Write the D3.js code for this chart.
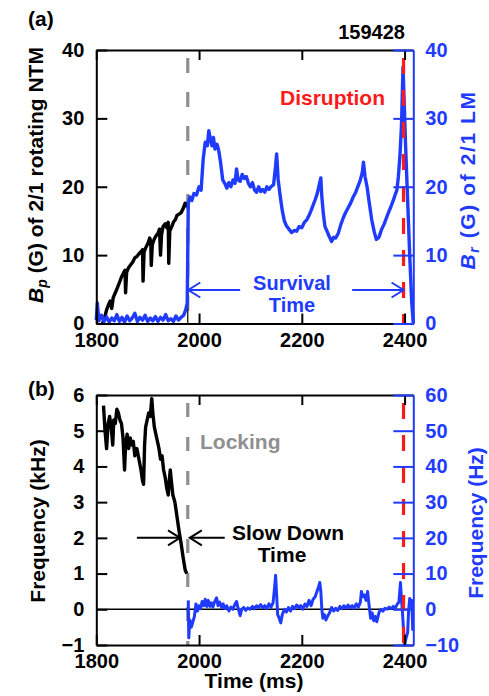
<!DOCTYPE html>
<html>
<head>
<meta charset="utf-8">
<script src="https://cdn.jsdelivr.net/npm/d3@7"></script>
<style>
  body { margin: 0; background: #fff; }
  text { font-family: "Liberation Sans", Arial, sans-serif; font-weight: bold; }
</style>
</head>
<body>
<script>
// ---- data ----
const timeTicks = [1800, 2000, 2200, 2400];
const ampTicks = [0, 10, 20, 30, 40];
const khzTicks = [-1, 0, 1, 2, 3, 4, 5, 6];
const hzTicks = [-10, 0, 10, 20, 30, 40, 50, 60];
const timeDomain = [1800, 2417];

const lockTime = 1978;
const disruptTime = 2398;
const shotNumber = "159428";

// (a) rotating NTM amplitude, black (G)
const ntmTime = [1812, 1816, 1820, 1824, 1827, 1830, 1833, 1837, 1841, 1845, 1849, 1853, 1856, 1857, 1859,
  1863, 1867, 1871, 1875, 1879, 1883, 1887, 1890, 1891, 1893, 1897, 1901, 1904, 1906, 1907, 1909, 1912,
  1916, 1920, 1923, 1925, 1927, 1930, 1934, 1937, 1940, 1941, 1943, 1947, 1950, 1954, 1957, 1961, 1965,
  1969, 1973, 1976];
const ntmAmp = [0.0, 0.8, 2.0, 2.8, 3.3, 2.2, 3.8, 4.5, 5.2, 6.0, 6.8, 7.4, 7.8, 4.5, 7.5,
  8.2, 8.6, 9.0, 9.6, 9.8, 10.2, 10.5, 10.8, 6.2, 10.5, 11.2, 11.8, 12.5, 12.0, 8.5, 11.5, 12.2,
  12.8, 13.2, 13.8, 10.0, 13.0, 14.2, 14.6, 14.0, 14.8, 8.8, 13.5, 14.2, 14.8, 15.2, 15.8, 16.0, 16.2,
  16.8, 17.6, 17.0];

// (a) locked mode amplitude, blue (G)
const lmTime = [1800, 1802, 1805, 1810, 1815, 1820, 1825, 1830, 1835, 1840, 1845, 1850, 1855, 1860, 1865,
  1870, 1875, 1880, 1885, 1890, 1895, 1900, 1905, 1910, 1915, 1920, 1925, 1930, 1935, 1940, 1945, 1950,
  1955, 1960, 1965, 1970, 1974, 1977, 1979, 1982, 1986, 1990, 1995, 2000, 2004, 2008, 2012, 2016, 2019,
  2022, 2025, 2028, 2031, 2035, 2038, 2042, 2046, 2050, 2054, 2058, 2062, 2066, 2070, 2073, 2076, 2080,
  2084, 2088, 2092, 2096, 2100, 2104, 2108, 2112, 2116, 2120, 2124, 2128, 2132, 2136, 2140, 2145, 2149,
  2151, 2154, 2158, 2162, 2166, 2170, 2175, 2180, 2185, 2190, 2195, 2200, 2205, 2210, 2214, 2218, 2222,
  2226, 2230, 2234, 2237, 2239, 2242, 2245, 2249, 2253, 2258, 2262, 2266, 2271, 2276, 2281, 2285, 2290,
  2295, 2300, 2305, 2310, 2314, 2318, 2320, 2323, 2327, 2331, 2336, 2341, 2345, 2350, 2355, 2360, 2365,
  2369, 2373, 2378, 2382, 2385, 2388, 2391, 2394, 2397, 2399, 2402, 2406, 2410, 2414, 2417];
const lmAmp = [0.5, 3.0, 0.4, 1.2, 0.3, 1.0, 0.2, 0.8, 0.4, 1.3, 0.3, 0.9, 0.2, 1.1, 0.4,
  0.8, 1.5, 0.3, 0.9, 0.5, 1.2, 0.3, 0.8, 0.4, 1.0, 0.3, 0.9, 0.5, 1.3, 0.4, 0.7, 0.3,
  1.1, 0.5, 0.9, 1.2, 2.0, 3.0, 17.5, 18.5, 18.0, 19.0, 18.8, 20.0, 19.5, 24.0, 26.5, 26.0, 28.2,
  27.0, 26.0, 27.2, 25.5, 26.2, 25.4, 23.5, 21.0, 20.5, 19.8, 20.6, 20.0, 21.0, 20.5, 22.6, 21.0, 20.8,
  21.8, 21.2, 21.5, 20.5, 20.0, 20.6, 19.5, 19.2, 20.0, 19.3, 19.6, 19.2, 20.0, 19.6, 20.0, 20.3, 23.0,
  24.8, 21.0, 18.6, 16.5, 15.0, 14.3, 13.8, 13.3, 13.6, 13.5, 14.2, 14.0, 14.8, 15.2, 15.8, 16.5, 17.3,
  18.1, 19.0, 20.3, 21.3, 18.5, 16.0, 14.2, 13.5, 12.8, 12.0, 12.6, 12.5, 13.2, 14.5, 15.5, 16.2, 16.9,
  17.6, 18.5, 19.2, 20.2, 21.0, 22.2, 23.6, 21.5, 20.0, 17.8, 15.2, 13.4, 12.3, 12.6, 13.7, 14.5, 15.5,
  16.3, 17.0, 18.0, 18.9, 19.5, 21.5, 24.5, 29.0, 37.5, 33.0, 26.0, 18.0, 10.0, 3.0, 0.0];

// (b) rotating mode frequency, black (kHz)
const rotTime = [1814, 1817, 1820, 1823, 1826, 1829, 1832, 1834, 1837, 1840, 1843, 1846, 1849, 1852, 1855,
  1857, 1860, 1863, 1866, 1869, 1872, 1875, 1879, 1883, 1887, 1890, 1892, 1894, 1896, 1899, 1902, 1905,
  1908, 1910, 1913, 1916, 1919, 1922, 1925, 1928, 1931, 1934, 1937, 1940, 1942, 1944, 1946, 1949, 1953,
  1957, 1961, 1965, 1969, 1973, 1976];
const rotKHz = [5.7, 5.0, 4.5, 5.2, 5.4, 5.1, 4.6, 5.3, 5.2, 5.6, 5.5, 5.3, 5.2, 4.8, 3.9,
  4.6, 4.9, 4.5, 4.8, 4.6, 4.7, 4.3, 4.5, 4.2, 3.9, 3.6, 3.5, 4.6, 5.1, 5.3, 5.5, 5.4,
  5.9, 5.5, 5.1, 4.9, 4.7, 4.5, 4.2, 4.3, 3.9, 3.7, 3.4, 3.2, 3.6, 3.9, 3.6, 3.2, 3.0,
  2.6, 2.2, 1.85, 1.45, 1.1, 1.0];

// (b) locked mode frequency, blue (Hz)
const lockTimeHz = [1979, 1980, 1982, 1985, 1988, 1991, 1994, 1997, 2000, 2003, 2006, 2009, 2012, 2015, 2018,
  2021, 2024, 2027, 2030, 2034, 2037, 2040, 2044, 2047, 2050, 2054, 2058, 2062, 2066, 2070, 2073, 2076,
  2080, 2083, 2087, 2091, 2095, 2099, 2104, 2108, 2112, 2116, 2120, 2124, 2128, 2132, 2136, 2140, 2144,
  2147, 2149, 2151, 2153, 2156, 2159, 2162, 2166, 2170, 2174, 2178, 2182, 2186, 2190, 2194, 2198, 2202,
  2206, 2210, 2214, 2218, 2222, 2226, 2229, 2232, 2235, 2237, 2239, 2241, 2244, 2247, 2250, 2254, 2258,
  2262, 2266, 2270, 2274, 2278, 2282, 2286, 2290, 2294, 2298, 2302, 2306, 2310, 2314, 2316, 2319, 2322,
  2325, 2328, 2331, 2334, 2337, 2340, 2343, 2346, 2350, 2354, 2358, 2362, 2366, 2370, 2374, 2378, 2382,
  2386, 2389, 2392, 2394, 2396, 2398, 2400, 2403, 2406, 2408, 2410, 2412, 2414, 2416];
const lockHz = [2.5, -8.0, -3.0, -5.0, -3.5, -2.0, 1.5, -0.5, 1.0, 0.2, 2.2, 1.0, 2.8, 0.8, 2.5,
  0.8, 1.8, 0.6, 2.0, 3.2, 1.0, 2.0, 0.5, 1.5, 0.2, 1.0, -0.5, 0.6, 0.0, 1.5, 2.2, 0.3,
  -1.8, 0.0, 0.5, -0.3, 0.4, 0.0, 0.8, 0.2, 1.0, 0.5, 1.3, 0.4, 1.0, 0.2, 1.5, 0.6, 1.8,
  6.0, 9.5, 4.0, -1.5, -2.5, -3.8, -1.5, 0.0, -0.8, 0.5, -0.5, 0.8, 0.2, 1.2, 0.5, 1.0, 0.0,
  1.5, 0.8, 2.5, 1.0, 2.8, 3.5, 4.8, 6.0, 7.5, 5.0, 0.0, -2.5, -1.5, -3.0, -2.0, -1.0, 0.5,
  -0.5, 0.3, -0.3, 0.8, 0.2, 1.0, 0.3, 1.2, 0.4, 1.0, 0.3, 1.5, 0.6, 2.0, 5.0, 3.5, 4.0,
  2.5, 5.0, 1.0, -2.5, -1.0, -3.2, -2.0, -3.5, -1.0, 0.0, -0.5, 0.3, 0.0, 0.6, 0.2, 0.8, 0.4,
  1.5, 2.0, 7.5, 3.0, -1.0, -6.0, -10.0, -8.0, -6.5, 0.0, 3.0, 1.5, 2.5, -6.0];

// ---- layout ----
const W = 489, H = 696;
const BLUE = "#1f3bff", RED = "#ff1a1a", GREY = "#8f8f8f";

const svg = d3.select("body").append("svg").attr("width", W).attr("height", H);

const x = d3.scaleLinear().domain(timeDomain).range([96.3, 413.3]);

const yA = d3.scaleLinear().domain([0, 40]).range([323.5, 50]);
const yB = d3.scaleLinear().domain([-1, 6]).range([645, 395]);
const yBr = d3.scaleLinear().domain([-10, 60]).range([645, 395]);

function styleAxis(g, color) {
  g.attr("font-size", 20)
    .attr("font-family", "Liberation Sans, Arial, sans-serif")
    .attr("font-weight", "bold");
  g.selectAll("path, line").attr("stroke", color).attr("stroke-width", 2);
  g.selectAll("text").attr("fill", color);
}

// draws the four sides of one panel
function frame(yL, yR, ticksL, ticksR) {
  const [y0, y1] = yL.range();
  const fmt = d3.format("d");

  svg.append("g")
    .attr("transform", `translate(0,${y1})`)
    .call(d3.axisTop(x).tickValues(timeTicks).tickSize(-10).tickSizeOuter(0).tickFormat(""))
    .call(styleAxis, "#000");

  svg.append("g")
    .attr("transform", `translate(0,${y0})`)
    .call(d3.axisBottom(x).tickValues(timeTicks).tickSize(-10).tickSizeOuter(0)
      .tickPadding(9).tickFormat(fmt))
    .call(styleAxis, "#000");

  svg.append("g")
    .attr("transform", `translate(${x.range()[0]},0)`)
    .call(d3.axisLeft(yL).tickValues(ticksL).tickSize(-11).tickSizeOuter(0)
      .tickPadding(12).tickFormat(fmt))
    .call(styleAxis, "#000");

  svg.append("g")
    .attr("transform", `translate(${x.range()[1]},0)`)
    .call(d3.axisRight(yR).tickValues(ticksR).tickSize(-20).tickSizeOuter(0)
      .tickPadding(12).tickFormat(fmt))
    .call(styleAxis, BLUE);
}

function vdash(y, t, color, dash) {
  svg.append("line")
    .attr("x1", x(t)).attr("x2", x(t))
    .attr("y1", y.range()[1] + 8).attr("y2", y.range()[0])
    .attr("stroke", color).attr("stroke-width", 3.2)
    .attr("stroke-dasharray", dash);
}

function curve(ts, vs, y, color, w) {
  svg.append("path")
    .datum(d3.zip(ts, vs))
    .attr("fill", "none")
    .attr("stroke", color)
    .attr("stroke-width", w)
    .attr("stroke-linejoin", "round")
    .attr("d", d3.line().x(d => x(d[0])).y(d => y(d[1])));
}

// open chevron arrowhead at the t1 end
function arrow(t0, t1, v, y, color, w) {
  const xa = x(t0), xb = x(t1), yy = y(v);
  const dir = Math.sign(xb - xa);
  svg.append("line").attr("x1", xa).attr("x2", xb).attr("y1", yy).attr("y2", yy)
    .attr("stroke", color).attr("stroke-width", w);
  svg.append("path")
    .attr("d", `M${xb - dir * 12},${yy - 7.5}L${xb},${yy}L${xb - dir * 12},${yy + 7.5}`)
    .attr("fill", "none").attr("stroke", color).attr("stroke-width", w);
}

function label(txt, px, py, color, size, anchor) {
  return svg.append("text")
    .attr("x", px).attr("y", py)
    .attr("fill", color)
    .attr("font-size", size)
    .attr("text-anchor", anchor || "middle")
    .text(txt);
}

function ylabel(px, py, color, main, sub, rest, spacing) {
  const t = svg.append("text")
    .attr("transform", `translate(${px},${py}) rotate(-90)`)
    .attr("text-anchor", "middle")
    .attr("fill", color)
    .attr("font-size", 21)
    .attr("letter-spacing", spacing || 0);
  if (main) {
    t.append("tspan").attr("font-style", "italic").text(main);
    t.append("tspan").attr("font-size", 14).attr("font-style", "italic").attr("dy", 4).text(sub);
    t.append("tspan").attr("dy", -4).text(rest);
  } else {
    t.text(rest);
  }
}

// ---- panel (a) ----
vdash(yA, lockTime, GREY, "15,19");
curve(ntmTime, ntmAmp, yA, "#000", 3.4);
// thin drop of the rotating mode at locking
svg.append("line")
  .attr("x1", x(lockTime)).attr("x2", x(lockTime))
  .attr("y1", yA(ntmAmp[ntmAmp.length - 1])).attr("y2", yA(0))
  .attr("stroke", "#000").attr("stroke-width", 1.2);
curve(lmTime, lmAmp, yA, BLUE, 3.4);
vdash(yA, disruptTime, RED, "16,16");
frame(yA, yA, ampTicks, ampTicks);

arrow(2080, lockTime + 1, 4.9, yA, BLUE, 2);
arrow(2298, disruptTime, 4.9, yA, BLUE, 2);
label("Survival", 292, 290, BLUE, 20);
label("Time", 292, 312, BLUE, 20);
label("Disruption", 385, 105, RED, 21, "end");
label(shotNumber, 405, 39, "#000", 20, "end");
label("(a)", 28, 26, "#000", 21, "start");

ylabel(43, 175, "#000", "B", "p", " (G) of 2/1 rotating NTM");
ylabel(475, 180, BLUE, "B", "r", " (G) of 2/1 LM", 1.6);

// ---- panel (b) ----
vdash(yB, lockTime, GREY, "14,20");
svg.append("line")
  .attr("x1", x.range()[0]).attr("x2", x.range()[1])
  .attr("y1", yB(0)).attr("y2", yB(0))
  .attr("stroke", "#000").attr("stroke-width", 1.5);
curve(rotTime, rotKHz, yB, "#000", 3.4);
curve(lockTimeHz, lockHz, yBr, BLUE, 3);
vdash(yB, disruptTime, RED, "16,16");
frame(yB, yBr, khzTicks, hzTicks);

arrow(1879, 1963, 2, yB, "#000", 2);
arrow(2050, 1982, 2, yB, "#000", 2);
label("Slow Down", 288, 540, "#000", 21);
label("Time", 282, 562, "#000", 21);
label("Locking", 200, 449, GREY, 21, "start");
label("(b)", 28, 396, "#000", 21, "start");
label("Time (ms)", 254, 688, "#000", 21);

ylabel(45, 521, "#000", null, null, "Frequency (kHz)");
ylabel(483, 523, BLUE, null, null, "Frequency (Hz)");
</script>
</body>
</html>
